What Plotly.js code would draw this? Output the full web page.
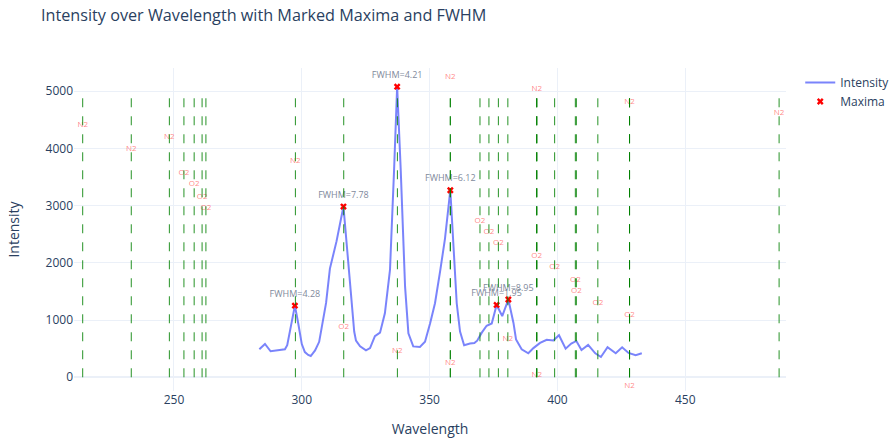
<!DOCTYPE html>
<html>
<head>
<meta charset="utf-8">
<script src="https://cdn.plot.ly/plotly-3.0.1.min.js"></script>
<style>html,body{margin:0;padding:0;background:#fff;}#chart{width:892px;height:438px;}</style>
</head>
<body>
<div id="chart"></div>
<script>
// Spectrum (wavelength in nm, intensity)
const wavelength = [283.4,285.6,287.8,289.5,291.5,293.4,294.3,295.7,297.3,298.6,300.0,301.2,302.5,303.5,305.2,306.8,308.4,309.5,311.0,313.6,316.3,317.8,319.3,320.5,321.2,322.8,325.1,326.7,328.6,330.6,332.5,334.5,336.1,337.3,338.7,340.4,341.7,343.6,346.2,348.2,350.2,352.1,354.1,356.0,358.1,359.7,360.6,361.9,363.5,365.8,367.5,368.6,370.4,372.3,374.3,376.2,378.4,380.8,382.8,383.8,386.0,388.6,390.6,393.2,395.8,398.4,400.6,403.2,405.4,407.4,409.4,412.0,414.8,417.0,419.6,422.8,425.3,427.8,430.6,433.0];
const intensity = [489,582,455,465,485,490,560,900,1252,944,580,440,390,372,470,620,1000,1300,1900,2380,2985,2250,1400,800,640,540,470,510,720,780,1119,1876,3624,5080,3624,1584,769,540,530,622,944,1294,1850,2420,3270,2000,1294,800,560,590,600,640,780,900,940,1264,1070,1360,950,660,490,419,510,600,655,645,735,500,590,635,477,565,419,355,525,420,524,425,385,420];

// Detected maxima and their FWHM
const maxWavelength = [297.3,316.3,337.3,358.1,376.2,380.8];
const maxIntensity = [1252,2985,5080,3270,1264,1360];
const fwhmLabels = ["FWHM=4.28","FWHM=7.78","FWHM=4.21","FWHM=6.12","FWHM=1.95","FWHM=8.95"];

// Reference emission lines (species, wavelength, label height)
const lineSpecies = ["N2","N2","N2","N2","N2","N2","N2","N2","O2","O2","O2","O2","O2","O2","O2","O2","O2","O2","O2","O2","O2","O2","N2","N2","N2","N2","N2"];
const lineWavelength = [358.1,391.9,428.2,486.7,214.3,248.2,233.3,297.5,253.9,257.9,261.0,262.5,369.7,373.2,376.9,391.9,398.9,407.0,407.4,415.8,428.2,316.4,380.6,337.4,358.1,391.9,428.2];
const labelHeight = [5245,5040,4818,4626,4411,4206,3991,3787,3572,3374,3157,2960,2738,2535,2343,2126,1928,1706,1509,1293,1089,874,675,460,255,45,-152];
const lineTop = 4950;

const traces = [
  {x: wavelength, y: intensity, mode: 'lines', name: 'Intensity',
   line: {color: '#636efa', width: 2}, opacity: 0.85},
  {x: maxWavelength, y: maxIntensity, mode: 'markers', name: 'Maxima',
   marker: {color: 'red', symbol: 'x', size: 6}},
  {x: maxWavelength, y: maxIntensity, mode: 'markers+text', text: fwhmLabels,
   textposition: 'top center', showlegend: false, hoverinfo: 'skip',
   marker: {size: 9, opacity: 0},
   textfont: {size: 9, color: '#7f8a9c'}},
  {x: lineWavelength, y: labelHeight, mode: 'text', text: lineSpecies,
   textposition: 'middle center', showlegend: false, hoverinfo: 'skip',
   textfont: {size: 8, color: 'rgba(255,0,0,0.5)'}}
];

const shapes = lineWavelength.map(w => ({
  type: 'line', xref: 'x', yref: 'y', x0: w, x1: w, y0: 0, y1: lineTop,
  line: {color: 'green', width: 1, dash: 'dash'}, opacity: 0.85, layer: 'above'
}));

const layout = {
  width: 892, height: 438,
  paper_bgcolor: 'white', plot_bgcolor: 'white',
  font: {family: '"Open Sans", verdana, arial, sans-serif', color: '#2a3f5f', size: 12},
  title: {text: 'Intensity over Wavelength with Marked Maxima and FWHM', x: 0.046, xanchor: 'left',
          y: 0.965, yanchor: 'middle', font: {size: 16.2}},
  margin: {l: 74, r: 106, t: 68, b: 47, autoexpand: false},
  xaxis: {title: {text: 'Wavelength', font: {size: 14}}, range: [210.9, 489.4],
          gridcolor: '#EBF0F8', zeroline: false, showline: false, ticks: '',
          tickvals: [250,300,350,400,450]},
  yaxis: {title: {text: 'Intensity', font: {size: 14}, standoff: 22}, range: [-240, 5407],
          gridcolor: '#EBF0F8', zerolinecolor: '#EBF0F8', zerolinewidth: 2, ticks: '',
          tickvals: [0,1000,2000,3000,4000,5000]},
  legend: {x: 1.02, y: 1, xanchor: 'left', yanchor: 'top', font: {size: 12}},
  shapes: shapes,
  showlegend: true
};

Plotly.newPlot('chart', traces, layout, {displayModeBar: false, staticPlot: true});
</script>
</body>
</html>
